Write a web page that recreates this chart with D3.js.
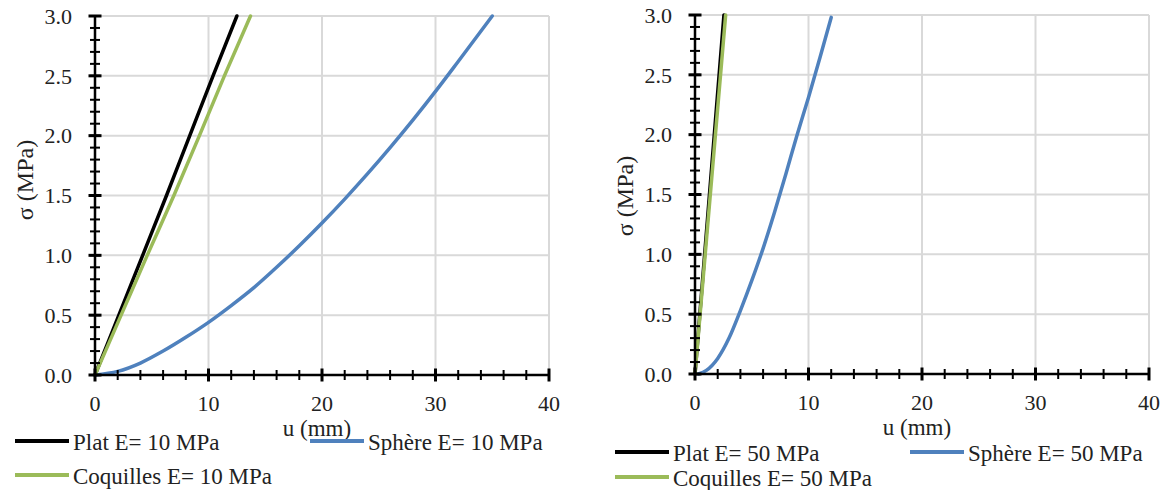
<!DOCTYPE html>
<html><head><meta charset="utf-8">
<script src="https://cdn.jsdelivr.net/npm/d3@7"></script>
<style>
body{margin:0;background:#fff;}
svg{display:block;}
svg text{font-family:"Liberation Serif","Times New Roman",serif;}
</style></head>
<body>
<svg id="chart" width="1168" height="490"></svg>
<script>
// ---- data ----
const xTicks = [0, 10, 20, 30, 40];
const yTicks = [0.0, 0.5, 1.0, 1.5, 2.0, 2.5, 3.0];

// left chart, E = 10 MPa
const plat10_u = [0, 2.1, 4.2, 6.3, 8.35, 10.4, 12.5];
const plat10_s = [0, 0.5, 1.0, 1.5, 2.0, 2.5, 3.0];
const coq10_u = [0, 2.3, 4.6, 6.95, 9.2, 11.4, 13.7];
const coq10_s = [0, 0.5, 1.0, 1.5, 2.0, 2.5, 3.0];
const sph10_u = [0, 2, 4, 6, 8, 10, 12, 14, 16, 18, 20, 22, 24, 26, 28, 30, 32, 35];
const sph10_s = [0, 0.03, 0.1, 0.2, 0.315, 0.44, 0.58, 0.73, 0.9, 1.08, 1.27, 1.47, 1.68, 1.9, 2.13, 2.37, 2.62, 3.0];

// right chart, E = 50 MPa
const plat50_u = [0, 2.55];
const plat50_s = [0, 3.0];
const coq50_u = [0, 2.7];
const coq50_s = [0, 3.0];
const sph50_u = [0.3, 1, 2, 3, 4, 5, 6, 7, 8, 9, 10, 11, 12];
const sph50_s = [0, 0.03, 0.13, 0.3, 0.53, 0.78, 1.05, 1.35, 1.67, 2.0, 2.31, 2.64, 2.98];

const labels10 = ["Plat E= 10 MPa", "Sphère E= 10 MPa", "Coquilles E= 10 MPa"];
const labels50 = ["Plat E= 50 MPa", "Sphère E= 50 MPa", "Coquilles E= 50 MPa"];
const colors = {plat: "#000000", sph: "#4f81bd", coq: "#9bbb59"};

const svg = d3.select("#chart");
const zip = (u, s) => u.map((d, i) => [d, s[i]]);

function drawChart(cfg) {
  const x = d3.scaleLinear().domain([0, 40]).range([cfg.x0, cfg.x1]);
  const y = d3.scaleLinear().domain([0, 3]).range([cfg.yb, cfg.yt]);
  const g = svg.append("g");

  // gridlines
  g.append("g").selectAll("line").data(xTicks.filter(d => d > 0)).join("line")
    .attr("x1", d => x(d)).attr("x2", d => x(d)).attr("y1", y(0)).attr("y2", y(3))
    .attr("stroke", "#d9d9d9").attr("stroke-width", 2);
  g.append("g").selectAll("line").data(yTicks.filter(d => d > 0)).join("line")
    .attr("x1", x(0)).attr("x2", x(40)).attr("y1", d => y(d)).attr("y2", d => y(d))
    .attr("stroke", "#d9d9d9").attr("stroke-width", 2);

  // series
  const line = d3.line().x(d => x(d[0])).y(d => y(d[1])).curve(d3.curveMonotoneX);
  const series = [
    {d: zip(cfg.sph_u, cfg.sph_s), c: colors.sph, w: 3.5},
    {d: zip(cfg.plat_u, cfg.plat_s), c: colors.plat, w: 3.5},
    {d: zip(cfg.coq_u, cfg.coq_s), c: colors.coq, w: 3.5}
  ];
  series.forEach(s => {
    g.append("path").attr("d", line(s.d)).attr("fill", "none")
      .attr("stroke", s.c).attr("stroke-width", s.w).attr("stroke-linecap", "round");
  });

  // axes lines
  g.append("line").attr("x1", x(0)).attr("x2", x(0)).attr("y1", y(0)).attr("y2", y(3))
    .attr("stroke", "#000").attr("stroke-width", 2.5);
  g.append("line").attr("x1", x(0)).attr("x2", x(40)).attr("y1", y(0)).attr("y2", y(0))
    .attr("stroke", "#000").attr("stroke-width", 2.5);

  // minor ticks (cross)
  const yMinor = d3.range(0, 31).map(i => i / 10);
  g.append("g").selectAll("line").data(yMinor).join("line")
    .attr("x1", x(0) - 5).attr("x2", x(0) + 5).attr("y1", d => y(d)).attr("y2", d => y(d))
    .attr("stroke", "#000").attr("stroke-width", 2);
  const xMinor = d3.range(0, 21).map(i => i * 2);
  g.append("g").selectAll("line").data(xMinor).join("line")
    .attr("x1", d => x(d)).attr("x2", d => x(d)).attr("y1", y(0) - 5).attr("y2", y(0) + 5)
    .attr("stroke", "#000").attr("stroke-width", 2);
  // major ticks
  g.append("g").selectAll("line").data(yTicks).join("line")
    .attr("x1", x(0) - 6.5).attr("x2", x(0) + 6.5).attr("y1", d => y(d)).attr("y2", d => y(d))
    .attr("stroke", "#000").attr("stroke-width", 3);
  g.append("g").selectAll("line").data(xTicks).join("line")
    .attr("x1", d => x(d)).attr("x2", d => x(d)).attr("y1", y(0) - 6.5).attr("y2", y(0) + 6.5)
    .attr("stroke", "#000").attr("stroke-width", 3);

  // tick labels
  g.append("g").selectAll("text").data(yTicks).join("text")
    .attr("x", x(0) - 23).attr("y", d => y(d)).attr("dy", "0.35em")
    .attr("text-anchor", "end").attr("font-size", 22).attr("fill", "#222")
    .text(d => d3.format(".1f")(d));
  g.append("g").selectAll("text").data(xTicks).join("text")
    .attr("x", d => x(d)).attr("y", y(0) + 36)
    .attr("text-anchor", "middle").attr("font-size", 22).attr("fill", "#222")
    .text(d => d);

  // axis titles
  g.append("text").attr("x", (cfg.x0 + cfg.x1) / 2 - 5).attr("y", cfg.yb + 61)
    .attr("text-anchor", "middle").attr("font-size", 23).attr("fill", "#222").text("u (mm)");
  g.append("text").attr("transform", `translate(${cfg.ylabX},${cfg.ylabY}) rotate(-90)`)
    .attr("text-anchor", "middle").attr("font-size", 24).attr("fill", "#222").text("σ (MPa)");

  // legend
  const leg = [
    {c: colors.plat, t: cfg.labels[0], lx: cfg.leg[0][0], ly: cfg.leg[0][1]},
    {c: colors.sph, t: cfg.labels[1], lx: cfg.leg[1][0], ly: cfg.leg[1][1]},
    {c: colors.coq, t: cfg.labels[2], lx: cfg.leg[2][0], ly: cfg.leg[2][1]}
  ];
  leg.forEach(l => {
    g.append("line").attr("x1", l.lx).attr("x2", l.lx + 54).attr("y1", l.ly).attr("y2", l.ly)
      .attr("stroke", l.c).attr("stroke-width", 4);
    g.append("text").attr("x", l.lx + 58).attr("y", l.ly + 9)
      .attr("font-size", 23).attr("fill", "#222").text(l.t);
  });
}

drawChart({x0: 95, x1: 549, yt: 16, yb: 375, ylabX: 33, ylabY: 180,
  plat_u: plat10_u, plat_s: plat10_s, coq_u: coq10_u, coq_s: coq10_s, sph_u: sph10_u, sph_s: sph10_s,
  labels: labels10, leg: [[15, 441], [310, 441], [15, 475]]});
drawChart({x0: 695, x1: 1149, yt: 15, yb: 374, ylabX: 633, ylabY: 196,
  plat_u: plat50_u, plat_s: plat50_s, coq_u: coq50_u, coq_s: coq50_s, sph_u: sph50_u, sph_s: sph50_s,
  labels: labels50, leg: [[615, 452], [910, 452], [615, 477]]});
</script>
</body></html>
